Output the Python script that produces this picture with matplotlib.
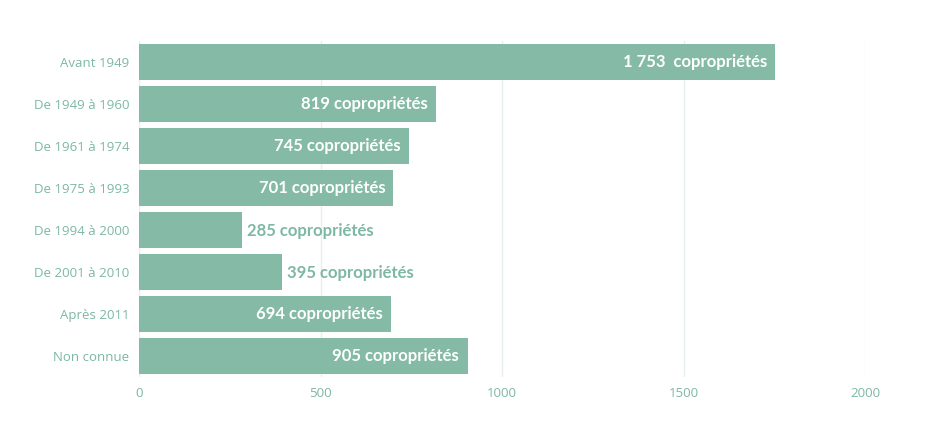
import matplotlib.pyplot as plt

categories = ['Avant 1949', 'De 1949 à 1960', 'De 1961 à 1974', 'De 1975 à 1993',
              'De 1994 à 2000', 'De 2001 à 2010', 'Après 2011', 'Non connue']
values = [1753, 819, 745, 701, 285, 395, 694, 905]
xticks = [0, 500, 1000, 1500, 2000]

bar_color = '#84baa6'
text_color = '#7db8a3'
grid_color = '#e6eeee'


def fmt_label(v):
    if v >= 1000:
        return f'{v // 1000} {v % 1000:03d}  copropriétés'
    return f'{v} copropriétés'


def main():
    fig = plt.figure(figsize=(9.35, 4.37), dpi=100)
    ax = fig.add_axes([139 / 935, 60 / 437, (865 - 139) / 935, 336 / 437])

    ypos = list(range(len(categories)))
    ax.barh(ypos, values, height=0.88, color=bar_color, zorder=3)
    ax.set_ylim(len(categories) - 0.5, -0.5)
    ax.set_xlim(0, 2000)

    ax.set_yticks(ypos)
    ax.set_yticklabels(categories, fontfamily='Open Sans', fontsize=9.5, color=text_color)
    ax.set_xticks(xticks)
    ax.set_xticklabels([str(t) for t in xticks], fontfamily='Open Sans', fontsize=9.5, color=text_color)
    ax.tick_params(axis='both', length=0)
    ax.tick_params(axis='y', pad=7)
    ax.tick_params(axis='x', pad=7)

    for s in ax.spines.values():
        s.set_visible(False)
    ax.grid(axis='x', color=grid_color, linewidth=1, zorder=0)

    # data labels: white inside the bar, bar colour outside for short bars
    for y, v in zip(ypos, values):
        if v >= 500:
            ax.annotate(fmt_label(v), xy=(v, y), xytext=(-6, 0), textcoords='offset points',
                        ha='right', va='center', color='white', fontsize=12,
                        fontweight='bold', fontfamily='Lato', zorder=4)
        else:
            ax.annotate(fmt_label(v), xy=(v, y), xytext=(3.5, -1), textcoords='offset points',
                        ha='left', va='center', color=text_color, fontsize=12,
                        fontweight='bold', fontfamily='Lato', zorder=4)

    fig.savefig('out.png', dpi=100)


if __name__ == '__main__':
    main()
